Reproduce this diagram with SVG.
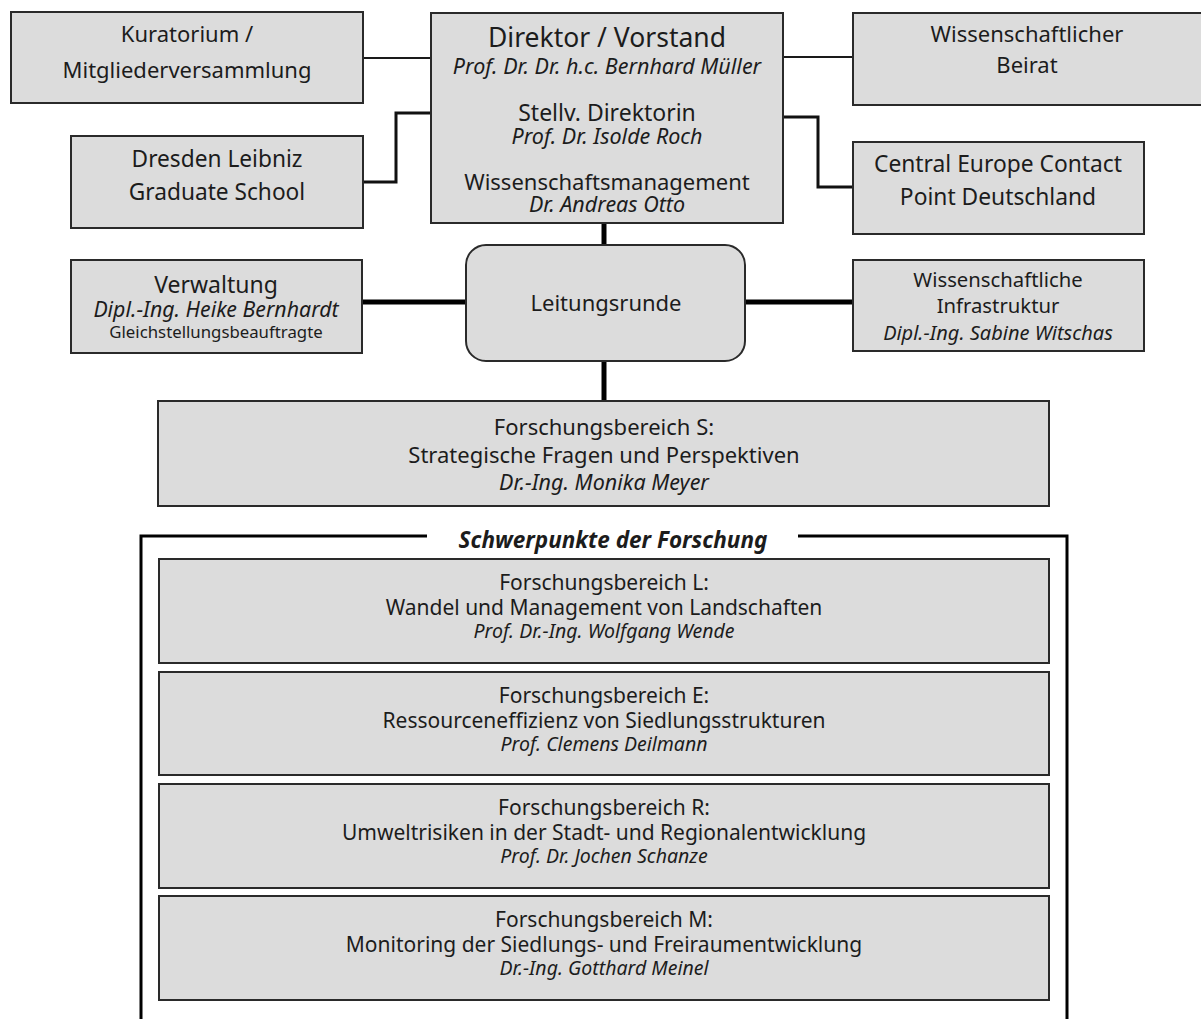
<svg xmlns="http://www.w3.org/2000/svg" width="1201" height="1019" viewBox="0 0 1201 1019">
<style>
.box{fill:#dcdcdc;stroke:#2a2a2a;stroke-width:2}
text{font-family:"Noto Sans","Open Sans","DejaVu Sans",sans-serif;fill:#1c1c1c;text-anchor:middle}
.it{font-style:italic}
.c2{stroke:#1a1a1a;stroke-width:2;fill:none}
.c3{stroke:#111;stroke-width:3;fill:none}
.c5{stroke:#000;stroke-width:5;fill:none}
</style>
<rect width="1201" height="1019" fill="#fff"/>
<g id="connectors">
<path class="c2" d="M363 58H431"/>
<path class="c3" d="M363 182H396V113H431"/>
<path class="c2" d="M783 57H853"/>
<path class="c3" d="M783 117H818V187H853"/>
<path class="c5" d="M604 223V245"/>
<path class="c5" d="M604 361V401"/>
<path class="c5" d="M362 302H466"/>
<path class="c5" d="M745 302H853"/>
</g>
<g id="kuratorium">
<rect class="box" x="11" y="12" width="352" height="91"/>
<text font-size="22"><tspan x="187" y="42">Kuratorium /</tspan><tspan x="187" y="78">Mitgliederversammlung</tspan></text>
</g>
<g id="dresden">
<rect class="box" x="71" y="136" width="292" height="92"/>
<text font-size="22.7"><tspan x="217" y="167">Dresden Leibniz</tspan><tspan x="217" y="200">Graduate School</tspan></text>
</g>
<g id="direktor">
<rect class="box" x="431" y="13" width="352" height="210"/>
<text font-size="26.5"><tspan x="607" y="47">Direktor / Vorstand</tspan><tspan x="607" y="74" font-size="21.5" class="it">Prof. Dr. Dr. h.c. Bernhard Müller</tspan><tspan x="607" y="121" font-size="23">Stellv. Direktorin</tspan><tspan x="607" y="144" font-size="21.5" class="it">Prof. Dr. Isolde Roch</tspan><tspan x="607" y="190" font-size="22">Wissenschaftsmanagement</tspan><tspan x="607" y="212" font-size="21.5" class="it">Dr. Andreas Otto</tspan></text>
</g>
<g id="beirat">
<rect class="box" x="853" y="13" width="350" height="92"/>
<text font-size="22"><tspan x="1027" y="42">Wissenschaftlicher</tspan><tspan x="1027" y="73">Beirat</tspan></text>
</g>
<g id="central-europe">
<rect class="box" x="853" y="142" width="291" height="92"/>
<text font-size="22.8"><tspan x="998" y="172">Central Europe Contact</tspan><tspan x="998" y="205">Point Deutschland</tspan></text>
</g>
<g id="verwaltung">
<rect class="box" x="71" y="260" width="291" height="93"/>
<text font-size="23"><tspan x="216" y="293">Verwaltung</tspan><tspan x="216" y="317" font-size="21.3" class="it">Dipl.-Ing. Heike Bernhardt</tspan><tspan x="216" y="338" font-size="16.8">Gleichstellungsbeauftragte</tspan></text>
</g>
<g id="leitungsrunde">
<rect class="box" x="466" y="245" width="279" height="116" rx="20"/>
<text x="606" y="311" font-size="22">Leitungsrunde</text>
</g>
<g id="infrastruktur">
<rect class="box" x="853" y="260" width="291" height="91"/>
<text font-size="20.3"><tspan x="998" y="287">Wissenschaftliche</tspan><tspan x="998" y="313">Infrastruktur</tspan><tspan x="998" y="340" font-size="20" class="it">Dipl.-Ing. Sabine Witschas</tspan></text>
</g>
<g id="fb-s">
<rect class="box" x="158" y="401" width="891" height="105"/>
<text font-size="22"><tspan x="604" y="435">Forschungsbereich S:</tspan><tspan x="604" y="463">Strategische Fragen und Perspektiven</tspan><tspan x="604" y="490" font-size="21.5" class="it">Dr.-Ing. Monika Meyer</tspan></text>
</g>
<g id="schwerpunkte">
<path d="M141 1019V536H427M798 536H1067V1019" stroke="#000" stroke-width="3" fill="none"/>
<text x="613" y="548" font-size="22.5" font-weight="bold" class="it">Schwerpunkte der Forschung</text>
</g>
<g id="fb-l">
<rect class="box" x="159" y="559" width="890" height="104"/>
<text font-size="21"><tspan x="604" y="590">Forschungsbereich L:</tspan><tspan x="604" y="615">Wandel und Management von Landschaften</tspan><tspan x="604" y="638" font-size="19.5" class="it">Prof. Dr.-Ing. Wolfgang Wende</tspan></text>
</g>
<g id="fb-e">
<rect class="box" x="159" y="672" width="890" height="103"/>
<text font-size="21"><tspan x="604" y="703">Forschungsbereich E:</tspan><tspan x="604" y="728">Ressourceneffizienz von Siedlungsstrukturen</tspan><tspan x="604" y="751" font-size="19.5" class="it">Prof. Clemens Deilmann</tspan></text>
</g>
<g id="fb-r">
<rect class="box" x="159" y="784" width="890" height="104"/>
<text font-size="21"><tspan x="604" y="815">Forschungsbereich R:</tspan><tspan x="604" y="840">Umweltrisiken in der Stadt- und Regionalentwicklung</tspan><tspan x="604" y="863" font-size="19.5" class="it">Prof. Dr. Jochen Schanze</tspan></text>
</g>
<g id="fb-m">
<rect class="box" x="159" y="896" width="890" height="104"/>
<text font-size="21"><tspan x="604" y="927">Forschungsbereich M:</tspan><tspan x="604" y="952">Monitoring der Siedlungs- und Freiraumentwicklung</tspan><tspan x="604" y="975" font-size="19.5" class="it">Dr.-Ing. Gotthard Meinel</tspan></text>
</g>
</svg>
